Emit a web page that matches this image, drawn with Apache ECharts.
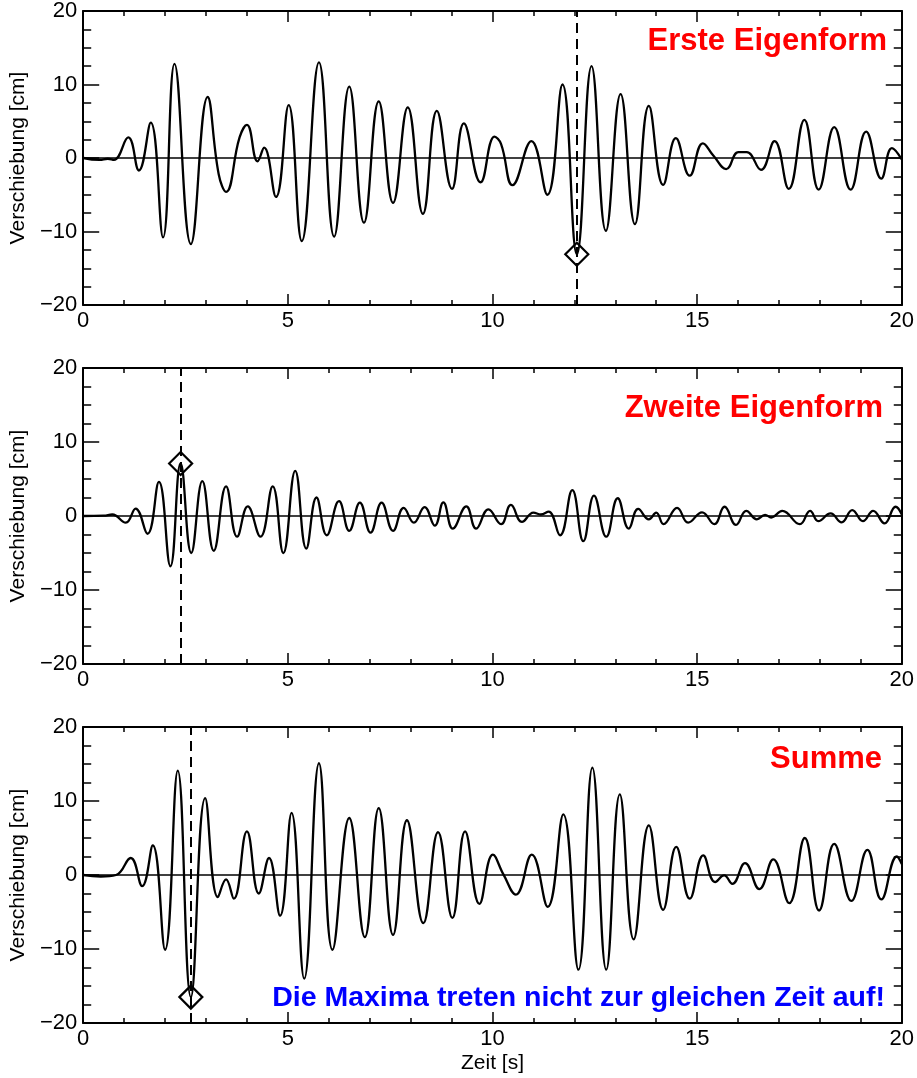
<!DOCTYPE html>
<html><head><meta charset="utf-8">
<script src="https://cdn.jsdelivr.net/npm/echarts@6/dist/echarts.min.js"></script>
<style>html,body{margin:0;padding:0;background:#fff}#c{width:917px;height:1078px}</style>
</head><body><div id="c"></div><script>
// Panel 1: Erste Eigenform (time s, displacement cm)
const t1 = [0,0.4,0.6,0.75,1.10,1.36,1.65,1.95,2.23,2.63,3.04,3.31,3.49,3.82,4.00,4.26,4.42,4.71,5.02,5.34,5.76,6.13,6.50,6.86,7.22,7.57,7.93,8.30,8.64,9.01,9.30,9.71,10.05,10.21,10.49,10.95,11.34,11.71,12.06,12.42,12.77,13.13,13.48,13.82,14.17,14.48,14.82,15.14,15.40,15.71,16.01,16.21,16.56,16.89,17.24,17.62,17.97,18.35,18.75,19.13,19.50,19.76,20.0];
const v1 = [0,-0.25,-0.1,-0.25,2.8,-1.7,4.8,-10.8,12.8,-11.7,8.3,-2.2,-4.6,2.8,4.5,-0.45,1.4,-5.3,7.2,-11.3,13.0,-10.7,9.7,-8.8,7.7,-6.1,6.9,-7.6,6.4,-4.2,4.7,-3.3,2.9,1.9,-3.7,2.3,-5.0,10.0,-13.1,12.5,-9.9,8.7,-9.0,7.1,-3.65,2.7,-2.4,2.0,0.3,-1.5,0.8,0.8,-1.6,2.3,-4.2,5.2,-4.3,4.2,-4.3,3.6,-2.8,1.35,-0.2];
// Panel 2: Zweite Eigenform
const t2 = [0,0.5,0.71,1.04,1.28,1.57,1.85,2.13,2.38,2.64,2.91,3.19,3.49,3.76,4.02,4.33,4.63,4.89,5.18,5.45,5.70,5.95,6.25,6.50,6.76,7.02,7.29,7.57,7.83,8.08,8.34,8.59,8.80,9.03,9.36,9.60,9.90,10.21,10.45,10.72,11.00,11.18,11.37,11.65,11.95,12.22,12.48,12.78,13.06,13.33,13.56,13.82,14.00,14.18,14.51,14.78,15.12,15.42,15.67,15.95,16.20,16.46,16.66,16.81,17.08,17.51,17.76,17.96,18.26,18.53,18.79,19.05,19.30,19.58,19.85,20.0];
const v2 = [0,0.05,0.2,-0.9,1.0,-2.4,4.6,-6.8,7.1,-5.0,4.7,-4.7,4.0,-2.8,1.3,-2.8,4.0,-5.0,6.1,-4.4,2.5,-2.6,2.0,-2.0,1.8,-2.25,1.8,-2.0,1.1,-0.9,1.2,-1.3,1.85,-1.7,1.3,-1.7,0.9,-1.1,1.5,-0.8,0.45,0.2,0.6,-2.6,3.5,-3.4,2.75,-2.8,2.4,-1.7,0.95,-0.45,0.45,-1.1,1.1,-0.9,0.5,-1.1,1.25,-1.2,0.7,-0.45,0.15,-0.2,0.7,-1.1,0.7,-0.7,0.35,-0.85,0.8,-0.7,0.7,-1.0,1.25,0.2];
// Panel 3: Summe
const t3 = [0,0.43,0.8,1.16,1.44,1.70,2.00,2.31,2.63,2.98,3.29,3.49,3.68,4.00,4.29,4.54,4.81,5.09,5.40,5.76,6.09,6.50,6.88,7.22,7.57,7.91,8.31,8.67,9.02,9.33,9.68,10.01,10.27,10.57,10.96,11.35,11.73,12.10,12.44,12.78,13.11,13.45,13.82,14.17,14.49,14.82,15.15,15.44,15.66,15.86,16.17,16.52,16.86,17.25,17.63,17.98,18.35,18.77,19.16,19.50,19.88,20.0];
const v3 = [0,-0.2,0,2.3,-1.5,4.0,-10.1,14.1,-16.5,10.4,-3.0,-0.6,-3.2,5.9,-2.5,2.3,-5.5,8.4,-14.0,15.1,-10.1,7.7,-8.4,9.05,-8.1,7.4,-6.5,5.8,-5.8,5.9,-3.9,2.75,0.05,-2.65,2.75,-4.3,8.2,-12.8,14.5,-12.8,10.9,-8.7,6.7,-4.7,3.8,-3.2,2.65,-0.95,-0.05,-1.2,1.6,-1.9,2.1,-3.8,5.0,-4.8,4.2,-3.5,3.4,-3.3,2.5,1.5];
// Marked maxima [time, value]
const max1 = [12.06, -13.1];
const max2 = [2.38, 7.1];
const max3 = [2.63, -16.5];
const titles = ['Erste Eigenform', 'Zweite Eigenform', 'Summe'];
const note = 'Die Maxima treten nicht zur gleichen Zeit auf!';
const yTicks = [-20, -10, 0, 10, 20];
const xLabel = 'Zeit [s]';
const yLabel = 'Verschiebung [cm]';

const FONT = '"Liberation Sans", Arial, Helvetica, sans-serif';
const zip = (a, b) => a.map((x, i) => [x, b[i]]);
const series = [[t1, v1], [t2, v2], [t3, v3]];
const maxima = [max1, max2, max3];
const tops = [9, 368, 727];

const grids = [], xAxes = [], yAxes = [], ser = [];
const tickStyle = {color: '#000', width: 1.5};
tops.forEach((top, i) => {
  grids.push({left: 82, top: top, width: 820, height: 296});
  const xBase = {
    gridIndex: i, type: 'value', min: 0, max: 20, interval: 5,
    axisLine: {onZero: false, lineStyle: {color: '#000', width: 2}},
    axisTick: {inside: true, length: 11, lineStyle: tickStyle},
    minorTick: {show: true, splitNumber: 5, length: 5, lineStyle: tickStyle},
    splitLine: {show: false}
  };
  xAxes.push(Object.assign({}, xBase, {
    position: 'bottom',
    axisLabel: {fontSize: 22, color: '#000', margin: 5, fontFamily: FONT},
    name: i === 2 ? xLabel : '', nameLocation: 'middle', nameGap: 30,
    nameTextStyle: {fontSize: 21, color: '#000', fontFamily: FONT}
  }));
  xAxes.push(Object.assign({}, xBase, {position: 'top', axisLabel: {show: false}}));
  const yBase = {
    gridIndex: i, type: 'value', min: yTicks[0], max: yTicks[yTicks.length - 1], interval: 10,
    axisLine: {onZero: false, lineStyle: {color: '#000', width: 2}},
    axisTick: {inside: true, length: 16, lineStyle: tickStyle},
    minorTick: {show: true, splitNumber: 4, length: 8, lineStyle: tickStyle},
    splitLine: {show: false}
  };
  yAxes.push(Object.assign({}, yBase, {
    position: 'left',
    axisLabel: {fontSize: 22, color: '#000', margin: 6, fontFamily: FONT,
      formatter: v => v < 0 ? '\u2212' + (-v) : String(v)},
    name: yLabel, nameLocation: 'middle', nameGap: 51,
    nameTextStyle: {fontSize: 21, color: '#000', fontFamily: FONT}
  }));
  yAxes.push(Object.assign({}, yBase, {position: 'right', axisLabel: {show: false}}));

  ser.push({
    type: 'line', xAxisIndex: 2 * i, yAxisIndex: 2 * i,
    data: zip(series[i][0], series[i][1]),
    showSymbol: false, smooth: 0.45,
    lineStyle: {color: '#000', width: 2.3},
    silent: true,
    markLine: {
      silent: true, symbol: ['none', 'none'], label: {show: false},
      lineStyle: {color: '#000', width: 1.5, type: 'solid'},
      data: [{yAxis: 0}]
    }
  });
  ser.push({
    type: 'scatter', xAxisIndex: 2 * i, yAxisIndex: 2 * i,
    data: [maxima[i]], symbol: 'diamond', symbolSize: 23,
    itemStyle: {color: 'rgba(0,0,0,0)', borderColor: '#000', borderWidth: 2.2, opacity: 1},
    silent: true, z: 5,
    markLine: {
      silent: true, symbol: ['none', 'none'], label: {show: false},
      lineStyle: {color: '#000', width: 2, type: [10, 6]},
      data: [{xAxis: maxima[i][0]}]
    }
  });
});

const titlePos = [[887, 41], [883, 408], [882, 759]];
const graphic = titles.map((s, i) => ({
  type: 'text', x: titlePos[i][0], y: titlePos[i][1], z: 100,
  style: {text: s, fill: '#ff0000', font: 'bold 31px ' + FONT, align: 'right', verticalAlign: 'middle'}
}));
graphic.push({
  type: 'text', x: 885, y: 998, z: 100,
  style: {text: note, fill: '#0000ff', font: 'bold 28.5px ' + FONT, align: 'right', verticalAlign: 'middle'}
});

const chart = echarts.init(document.getElementById('c'), null, {renderer: 'canvas'});
chart.setOption({
  animation: false,
  backgroundColor: '#fff',
  grid: grids, xAxis: xAxes, yAxis: yAxes, series: ser, graphic: graphic
});
</script></body></html>
